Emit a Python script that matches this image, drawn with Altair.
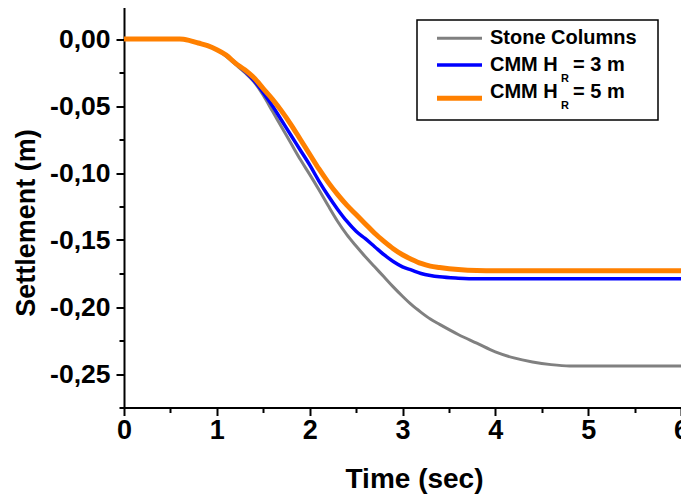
import altair as alt
import pandas as pd

# ---- data ----
time_s = [0, 0.6, 0.7, 0.8, 0.9, 1.0, 1.1, 1.2, 1.3, 1.4, 1.5, 1.6, 1.7, 1.8, 1.9, 2.0,
          2.1, 2.2, 2.3, 2.4, 2.5, 2.6, 2.7, 2.8, 2.9, 3.0,
          3.1, 3.2, 3.3, 3.4,
          3.6, 3.8, 4.0, 4.2, 4.4, 4.6, 4.8, 5.0, 6.0]

stone_columns = [0, 0, -0.001, -0.003, -0.005, -0.008, -0.013, -0.019, -0.025, -0.032, -0.042,
                 -0.054, -0.066, -0.078, -0.090, -0.101,
                 -0.1125, -0.1245, -0.136, -0.146, -0.1545, -0.1625, -0.170, -0.1775, -0.185, -0.192,
                 -0.1985, -0.204, -0.209, -0.213,
                 -0.2205, -0.227, -0.2335, -0.238, -0.241, -0.243, -0.244, -0.244, -0.244]

cmm_hr3 = [0, 0, -0.001, -0.003, -0.005, -0.008, -0.012, -0.018, -0.024, -0.031, -0.040,
           -0.050, -0.061, -0.072, -0.083, -0.094,
           -0.106, -0.117, -0.127, -0.136, -0.1435, -0.149, -0.155, -0.161, -0.166, -0.170,
           -0.1725, -0.175, -0.1765, -0.1775,
           -0.1785, -0.179, -0.179, -0.179, -0.179, -0.179, -0.179, -0.179, -0.179]

cmm_hr5 = [0, 0, -0.001, -0.003, -0.005, -0.008, -0.012, -0.018, -0.023, -0.029, -0.037,
           -0.045, -0.054, -0.064, -0.075, -0.086,
           -0.097, -0.107, -0.116, -0.124, -0.131, -0.138, -0.145, -0.151, -0.1565, -0.161,
           -0.1645, -0.1675, -0.1695, -0.1705,
           -0.172, -0.1728, -0.173, -0.173, -0.173, -0.173, -0.173, -0.173, -0.173]

series_names = ["Stone Columns", "CMM H_R = 3 m", "CMM H_R = 5 m"]
series_colors = ["#808080", "#0000FF", "#FF8000"]

x_ticks = [0, 0.5, 1, 1.5, 2, 2.5, 3, 3.5, 4, 4.5, 5, 5.5, 6]
y_ticks = [-0.275, -0.25, -0.225, -0.2, -0.175, -0.15, -0.125, -0.1, -0.075, -0.05, -0.025, 0, 0.025]

FONT = "Liberation Sans"

frames = []
for name, vals in zip(series_names, [stone_columns, cmm_hr3, cmm_hr5]):
    frames.append(pd.DataFrame({"time": time_s, "settlement": vals, "series": name}))
df = pd.concat(frames, ignore_index=True)

x_axis = alt.Axis(
    values=x_ticks,
    title="Time (sec)",
    labelExpr="datum.value % 1 == 0 ? format(datum.value, 'd') : ''",
    tickSize={"condition": {"test": "datum.value % 1 == 0", "value": 8}, "value": 5},
    labelOverlap=False, labelFlush=False, labelBound=False,
    labelFont=FONT, labelFontSize=27, labelFontWeight="bold", labelColor="black",
    labelPadding=2,
    titleFont=FONT, titleFontSize=28, titleFontWeight="bold", titleColor="black",
    titleX=290, titleY=80, titleBaseline="alphabetic",
    domainColor="black", domainWidth=2, tickColor="black", tickWidth=2,
    grid=False,
)

major_y = "abs(round(datum.value*1000)) % 50 == 0"
y_axis = alt.Axis(
    values=y_ticks,
    title="Settlement (m)",
    labelExpr=major_y + " ? ((datum.value < -0.0001 ? '-' : '') + replace(format(abs(datum.value), '.2f'), '.', ',')) : ''",
    tickSize={"condition": {"test": major_y, "value": 8}, "value": 5},
    labelOverlap=False, labelFlush=False, labelBound=False,
    labelFont=FONT, labelFontSize=26.5, labelFontWeight="bold", labelColor="black",
    labelPadding=6,
    titleFont=FONT, titleFontSize=27, titleFontWeight="bold", titleColor="black",
    titleX=-98, titleY=217, titleBaseline="middle",
    domainColor="black", domainWidth=2, tickColor="black", tickWidth=2,
    grid=False,
)

xs = alt.Scale(domain=[0, 6], nice=False, zero=False)
ys = alt.Scale(domain=[-0.275, 0.025], nice=False, zero=False)

widths = [3, 3.5, 5]
layers = []
for i, (name, col, w) in enumerate(zip(series_names, series_colors, widths)):
    sub = df[df["series"] == name]
    layers.append(alt.Chart(sub).mark_line(color=col, strokeWidth=w, interpolate="monotone").encode(
        x=alt.X("time:Q", scale=xs, axis=x_axis),
        y=alt.Y("settlement:Q", scale=ys, axis=y_axis),
    ))

# ---- manual legend (for the subscript R) ----
one = pd.DataFrame({"k": [0]})
box = alt.Chart(one).mark_rect(fill="white", stroke="black", strokeWidth=1.5).encode(
    x=alt.value(293), x2=alt.value(534), y=alt.value(14.5), y2=alt.value(114.5))
layers.append(box)

row_line_y = [32.8, 59.5, 92.8]
row_text_y = [32.5, 59.5, 86]
for i, col in enumerate(series_colors):
    layers.append(alt.Chart(one).mark_rule(color=col, strokeWidth=widths[i]).encode(
        x=alt.value(313), x2=alt.value(358), y=alt.value(row_line_y[i])))

txt = dict(font=FONT, fontWeight="bold", color="black", align="left", baseline="middle")
layers.append(alt.Chart(one).mark_text(fontSize=20, **txt).encode(
    x=alt.value(366), y=alt.value(row_text_y[0]), text=alt.value("Stone Columns")))
for i, num in [(1, "3"), (2, "5")]:
    layers.append(alt.Chart(one).mark_text(fontSize=20, **txt).encode(
        x=alt.value(366), y=alt.value(row_text_y[i]), text=alt.value("CMM H")))
    layers.append(alt.Chart(one).mark_text(fontSize=11, **txt).encode(
        x=alt.value(437), y=alt.value(row_text_y[i] + 14), text=alt.value("R")))
    layers.append(alt.Chart(one).mark_text(fontSize=20, **txt).encode(
        x=alt.value(449), y=alt.value(row_text_y[i]), text=alt.value("= " + num + " m")))

chart = alt.layer(*layers).properties(
    width=557, height=402,
    autosize=alt.AutoSizeParams(type="none"),
    padding={"left": 116, "top": -2.5, "right": 0, "bottom": 86},
    background="white",
).configure_view(stroke=None)

chart.save("out.html", embed_options={"renderer": "svg", "actions": False})
